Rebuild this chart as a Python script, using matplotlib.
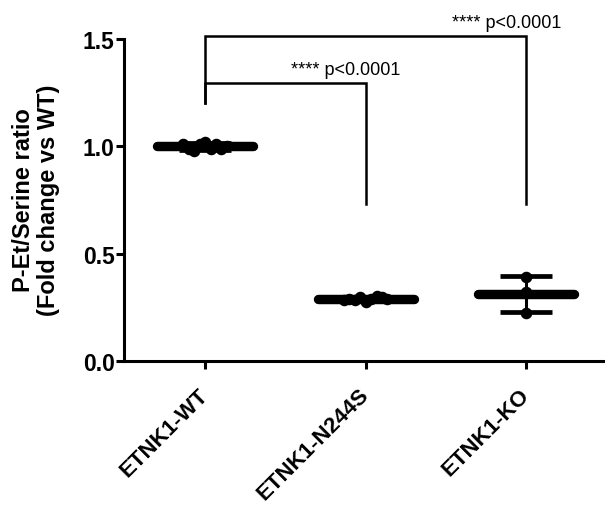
#P-Et/Serine ratio per ETNK1 genotype, scatter dot plot with mean and SD

import numpy as np
import matplotlib.pyplot as plt
from matplotlib.ticker import FormatStrFormatter

plt.rcParams['font.family'] = ['Liberation Sans', 'DejaVu Sans']

groups = ["ETNK1-WT", "ETNK1-N244S", "ETNK1-KO"]
wt = [1.013, 0.987, 0.978, 1.013, 1.022, 0.988, 1.012, 0.987, 1.00]
n244s = [0.285, 0.29, 0.284, 0.30, 0.276, 0.29, 0.303, 0.30, 0.29]
ko = [0.39, 0.225, 0.32]
data = [wt, n244s, ko]

#comparisons: (group a, group b, bracket height, label)
comparisons = [(0, 1, 1.295, "**** p<0.0001"),
               (0, 2, 1.514, "**** p<0.0001")]
bracket_bottom = [1.2, 0.73]   # lower ends of the bracket legs (left, right)

fig = plt.figure(figsize=(6.05, 5.06), dpi=100)
ax = fig.add_axes([124/605, 1 - 362/506, 1 - 124/605, (362 - 40)/506])

spread = [0.135, 0.135, 0.0]
for i, vals in enumerate(data):
    vals = np.array(vals)
    x = i + np.linspace(-spread[i], spread[i], len(vals))
    ax.plot(x, vals, 'o', color='black', markersize=7.3, zorder=3)
    m = vals.mean()
    sd = vals.std(ddof=1)
    ax.plot([i - 0.3, i + 0.3], [m, m], '-', color='black', lw=6.8,
            solid_capstyle='round', zorder=4)
    ax.errorbar(i, m, yerr=sd, color='black', elinewidth=2.2, capsize=19,
                capthick=3.4, zorder=4)

#significance brackets
for a, b, h, label in comparisons:
    ax.plot([a, a, b, b], [bracket_bottom[0], h, h, bracket_bottom[1]], '-',
            color='black', lw=1.8, clip_on=False, solid_joinstyle='miter')
    ax.text(b - 0.125, h + 0.042, label, ha='center', va='baseline',
            fontsize=13, clip_on=False)

ax.set_xlim(-0.505, 2.49)
ax.set_ylim(0, 1.5)
ax.set_yticks([0, 0.5, 1.0, 1.5])
ax.yaxis.set_major_formatter(FormatStrFormatter('%.1f'))
ax.set_xticks(range(len(groups)))
ax.set_xticklabels(groups, rotation=45, ha='right', va='center',
                   rotation_mode='anchor', fontsize=16, fontweight='bold')
for lab in ax.get_yticklabels():
    lab.set_fontsize(16.5)
    lab.set_fontweight('bold')

ax.spines['top'].set_visible(False)
ax.spines['right'].set_visible(False)
ax.spines['left'].set_linewidth(2.2)
ax.spines['bottom'].set_linewidth(2.2)
ax.tick_params(axis='both', width=2.2, length=5.8)
ax.tick_params(axis='y', pad=1)
ax.tick_params(axis='x', pad=16)

fig.text(36/605, 1 - 200/506, "P-Et/Serine ratio\n(Fold change vs WT)",
         rotation=90, ha='center', va='center', fontsize=17,
         fontweight='bold', linespacing=1.1)

plt.savefig('out.png', dpi=100)
